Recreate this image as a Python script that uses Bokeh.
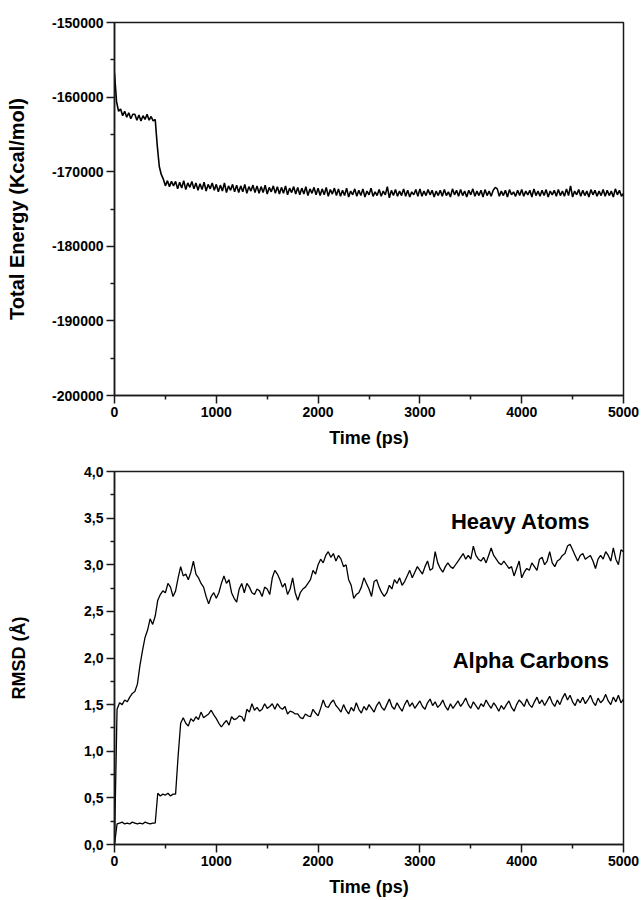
from bokeh.plotting import figure
from bokeh.layouts import column
from bokeh.models import FixedTicker, Label, Range1d
from bokeh.embed import file_html
from bokeh.resources import INLINE

FONT = "Liberation Sans"

# ---------------- data ----------------
# Total energy (kcal/mol), sampled every 20 ps from 0 to 5000 ps
energy_time = list(range(0, 5001, 20))
energy = [
    -156800, -160600, -161900, -161600, -162500, -161900, -162700, -162100, -162900, -162300,
    -162300, -163100, -162400, -163200, -162500, -163000, -162300, -163100, -162600, -163200,
    -163000, -166500, -169300, -170400, -171000, -171900, -171200, -172000, -171300, -171900,
    -171300, -172300, -171400, -172200, -171200, -172400, -171500, -172100, -171300, -172300,
    -171500, -172500, -171600, -172400, -171400, -172600, -171700, -172300, -171500, -172500,
    -171700, -172700, -171800, -172600, -171500, -172800, -171900, -172500, -171700, -172700,
    -171800, -172800, -171900, -172700, -171700, -172900, -172000, -172600, -171800, -172800,
    -171900, -172900, -172000, -172800, -171800, -173000, -172100, -172700, -171900, -172900,
    -172000, -173000, -172100, -172900, -171900, -173100, -172200, -172800, -172000, -173000,
    -172100, -173100, -172200, -173000, -172000, -173200, -172300, -172900, -172100, -173100,
    -172200, -173200, -172300, -173100, -172100, -173300, -172400, -173000, -172200, -173200,
    -172300, -173300, -172500, -173200, -172200, -173400, -172600, -173100, -172300, -173300,
    -172500, -173200, -172300, -173400, -172600, -173100, -172200, -173300, -172700, -173200,
    -172400, -173300, -172600, -173100, -172000, -173500, -172500, -173200, -172400, -173300,
    -172600, -173200, -172300, -173300, -172500, -173400, -172700, -173100, -172400, -173300,
    -172300, -173300, -172600, -173200, -172400, -173100, -172500, -173400, -172600, -173200,
    -172500, -173300, -172400, -173200, -172700, -173400, -172300, -173100, -172500, -173300,
    -172400, -173200, -172600, -173400, -172500, -173100, -172300, -173300, -172600, -173200,
    -172500, -173400, -172400, -173200, -172600, -173300, -172500, -172100, -172300, -173300,
    -172600, -173200, -172500, -173400, -172400, -173100, -172700, -173300, -172500, -173200,
    -172400, -173300, -172600, -173100, -172500, -173400, -172300, -173200, -172600, -173300,
    -172500, -173200, -172400, -173400, -172600, -173100, -172500, -173300, -172400, -173200,
    -172600, -173300, -172300, -173200, -171900, -173400, -172600, -173100, -172400, -173300,
    -172500, -173200, -172600, -173400, -172400, -173100, -172500, -173300, -172600, -173200,
    -172400, -173300, -172500, -173200, -172600, -173400, -172300, -173100, -172500, -173300,
    -172900,
]

# RMSD (Angstrom), sampled every 25 ps from 0 to 5000 ps
rmsd_time = list(range(0, 5001, 25))
heavy_atoms = [
    0.00, 1.45, 1.52, 1.50, 1.55, 1.53, 1.58, 1.62,
    1.64, 1.72, 1.92, 2.08, 2.22, 2.30, 2.42, 2.36,
    2.45, 2.62, 2.68, 2.72, 2.70, 2.80, 2.76, 2.66,
    2.72, 2.86, 2.98, 2.88, 2.90, 2.84, 2.92, 3.04,
    2.90, 2.86, 2.80, 2.76, 2.66, 2.58, 2.66, 2.70,
    2.64, 2.70, 2.80, 2.88, 2.80, 2.84, 2.70, 2.64,
    2.60, 2.74, 2.80, 2.70, 2.80, 2.76, 2.70, 2.68,
    2.74, 2.72, 2.66, 2.76, 2.74, 2.68, 2.86, 2.94,
    2.90, 2.84, 2.76, 2.80, 2.68, 2.74, 2.86, 2.70,
    2.62, 2.70, 2.74, 2.76, 2.80, 2.84, 2.94, 2.90,
    3.00, 3.06, 3.02, 3.10, 3.14, 3.08, 3.12, 3.04,
    3.10, 3.06, 2.98, 3.00, 2.84, 2.78, 2.64, 2.68,
    2.70, 2.76, 2.86, 2.80, 2.74, 2.66, 2.82, 2.84,
    2.76, 2.70, 2.66, 2.70, 2.78, 2.74, 2.84, 2.80,
    2.86, 2.78, 2.82, 2.88, 2.94, 2.86, 2.92, 2.98,
    2.94, 2.90, 2.98, 3.04, 2.94, 2.96, 3.14, 3.02,
    2.96, 2.92, 2.98, 3.02, 2.98, 2.96, 3.00, 3.04,
    3.08, 3.12, 3.06, 3.10, 3.06, 3.20, 3.10, 3.06,
    3.04, 3.08, 3.02, 3.10, 3.18, 3.10, 3.06, 3.02,
    3.00, 3.04, 3.00, 2.96, 2.98, 2.88, 2.96, 3.04,
    2.86, 2.92, 2.96, 2.94, 3.02, 2.98, 2.94, 3.06,
    3.08, 3.00, 3.04, 3.14, 3.02, 2.98, 3.04, 3.06,
    3.10, 3.12, 3.20, 3.22, 3.16, 3.10, 3.04, 3.10,
    3.12, 3.06, 3.08, 3.10, 3.04, 2.96, 3.06, 3.10,
    3.06, 3.14, 3.10, 3.04, 3.18, 3.06, 3.00, 3.16,
    3.14,
]
alpha_carbons = [
    0.00, 0.22, 0.23, 0.24, 0.22, 0.23, 0.22, 0.24,
    0.23, 0.22, 0.23, 0.22, 0.24, 0.23, 0.22, 0.23,
    0.23, 0.55, 0.52, 0.54, 0.53, 0.55, 0.52, 0.54,
    0.54, 0.95, 1.30, 1.36, 1.30, 1.27, 1.35, 1.32,
    1.37, 1.34, 1.42, 1.36, 1.38, 1.40, 1.44, 1.39,
    1.35, 1.30, 1.26, 1.30, 1.33, 1.28, 1.37, 1.34,
    1.35, 1.38, 1.37, 1.32, 1.45, 1.42, 1.51, 1.44,
    1.47, 1.43, 1.45, 1.51, 1.46, 1.48, 1.51, 1.45,
    1.51, 1.47, 1.45, 1.48, 1.40, 1.43, 1.42, 1.40,
    1.40, 1.36, 1.35, 1.40, 1.38, 1.37, 1.45, 1.41,
    1.38, 1.46, 1.55, 1.48, 1.47, 1.52, 1.55, 1.49,
    1.46, 1.42, 1.50, 1.44, 1.40, 1.47, 1.43, 1.52,
    1.45, 1.41, 1.48, 1.44, 1.50, 1.46, 1.42, 1.49,
    1.53, 1.47, 1.44, 1.50, 1.56, 1.48, 1.45, 1.52,
    1.47, 1.43, 1.50, 1.55, 1.48, 1.52, 1.46, 1.50,
    1.54, 1.48, 1.45, 1.52, 1.56, 1.49, 1.53, 1.47,
    1.50, 1.55, 1.48, 1.44, 1.51, 1.46, 1.50, 1.54,
    1.48, 1.52, 1.57, 1.50, 1.46, 1.53, 1.49, 1.45,
    1.51, 1.48, 1.55, 1.50, 1.46, 1.52, 1.48, 1.43,
    1.49, 1.45, 1.50, 1.54, 1.47, 1.43, 1.50, 1.55,
    1.52, 1.48, 1.56, 1.50, 1.47, 1.53, 1.58, 1.51,
    1.55, 1.49, 1.54, 1.59, 1.52, 1.48, 1.55, 1.50,
    1.57, 1.62, 1.55, 1.60, 1.53, 1.49, 1.56, 1.52,
    1.58, 1.51, 1.55, 1.60, 1.53, 1.49, 1.57, 1.52,
    1.55, 1.61, 1.54, 1.50, 1.58, 1.53, 1.60, 1.52,
    1.56,
]

time_ticks = [0, 1000, 2000, 3000, 4000, 5000]
time_minor = [500, 1500, 2500, 3500, 4500]
energy_ticks = [-200000, -190000, -180000, -170000, -160000, -150000]
energy_tick_labels = ["-200000", "-190000", "-180000", "-170000", "-160000", "-150000"]
energy_minor = [-195000, -185000, -175000, -165000, -155000]
rmsd_ticks = [0.0, 0.5, 1.0, 1.5, 2.0, 2.5, 3.0, 3.5, 4.0]
rmsd_tick_labels = ["0,0", "0,5", "1,0", "1,5", "2,0", "2,5", "3,0", "3,5", "4,0"]
rmsd_minor = [0.25, 0.75, 1.25, 1.75, 2.25, 2.75, 3.25, 3.75]

series_labels = ["Heavy Atoms", "Alpha Carbons"]
series_label_pos = [(3990, 3.46), (4090, 1.97)]

AXIS_COLOR = "#1a1a1a"


def style_axes(p, ylabel, ylabel_size, y_label_standoff, x_label_standoff):
    p.outline_line_color = AXIS_COLOR
    p.outline_line_width = 1.5
    p.outline_line_alpha = 1.0
    p.grid.visible = False
    p.background_fill_color = "white"
    p.border_fill_color = "white"
    for ax in (p.xaxis[0], p.yaxis[0]):
        ax.axis_line_color = AXIS_COLOR
        ax.axis_line_width = 1.5
        ax.major_tick_line_color = AXIS_COLOR
        ax.major_tick_line_width = 1.5
        ax.minor_tick_line_color = AXIS_COLOR
        ax.minor_tick_line_width = 1.5
        ax.major_tick_in = 0
        ax.major_tick_out = 8
        ax.minor_tick_in = 0
        ax.minor_tick_out = 4
        ax.major_label_text_font = FONT
        ax.major_label_text_font_style = "bold"
        ax.major_label_text_font_size = "14px"
        ax.major_label_text_color = "black"
        ax.major_label_standoff = 3
        ax.axis_label_text_font = FONT
        ax.axis_label_text_font_style = "bold"
        ax.axis_label_text_font_size = "18px"
        ax.axis_label_text_color = "black"
    p.xaxis[0].axis_label = "Time (ps)"
    p.xaxis[0].axis_label_standoff = x_label_standoff
    p.yaxis[0].axis_label = ylabel
    p.yaxis[0].axis_label_text_font_size = ylabel_size
    p.yaxis[0].axis_label_standoff = y_label_standoff
    p.xaxis[0].ticker = FixedTicker(ticks=time_ticks, minor_ticks=time_minor)


# ---------------- top: total energy ----------------
p1 = figure(width=641, height=463, output_backend="svg", toolbar_location=None,
            x_range=Range1d(0, 5000), y_range=Range1d(-200000, -150000),
            min_border_left=114, min_border_right=18, min_border_top=22, min_border_bottom=68)
style_axes(p1, "Total Energy (Kcal/mol)", "20px", 21, 8)
p1.yaxis[0].ticker = FixedTicker(ticks=energy_ticks, minor_ticks=energy_minor)
p1.yaxis[0].major_label_overrides = {t: s for t, s in zip(energy_ticks, energy_tick_labels)}
p1.line(energy_time, energy, line_color="black", line_width=1.6)

# ---------------- bottom: RMSD ----------------
p2 = figure(width=641, height=437, output_backend="svg", toolbar_location=None,
            x_range=Range1d(0, 5000), y_range=Range1d(0, 4),
            min_border_left=114, min_border_right=18, min_border_top=8, min_border_bottom=56)
style_axes(p2, "RMSD (Å)", "18px", 52, 8)
p2.yaxis[0].ticker = FixedTicker(ticks=rmsd_ticks, minor_ticks=rmsd_minor)
p2.yaxis[0].major_label_overrides = {t: s for t, s in zip(rmsd_ticks, rmsd_tick_labels)}
p2.line(rmsd_time, heavy_atoms, line_color="black", line_width=1.3)
p2.line(rmsd_time, alpha_carbons, line_color="black", line_width=1.3)

for text, (lx, ly) in zip(series_labels, series_label_pos):
    p2.add_layout(Label(x=lx, y=ly, text=text, text_align="center", text_baseline="alphabetic",
                        text_font=FONT, text_font_style="bold", text_font_size="22px",
                        text_color="black"))

layout = column(p1, p2, spacing=0)
open("out.html", "w").write(file_html(layout, INLINE))
